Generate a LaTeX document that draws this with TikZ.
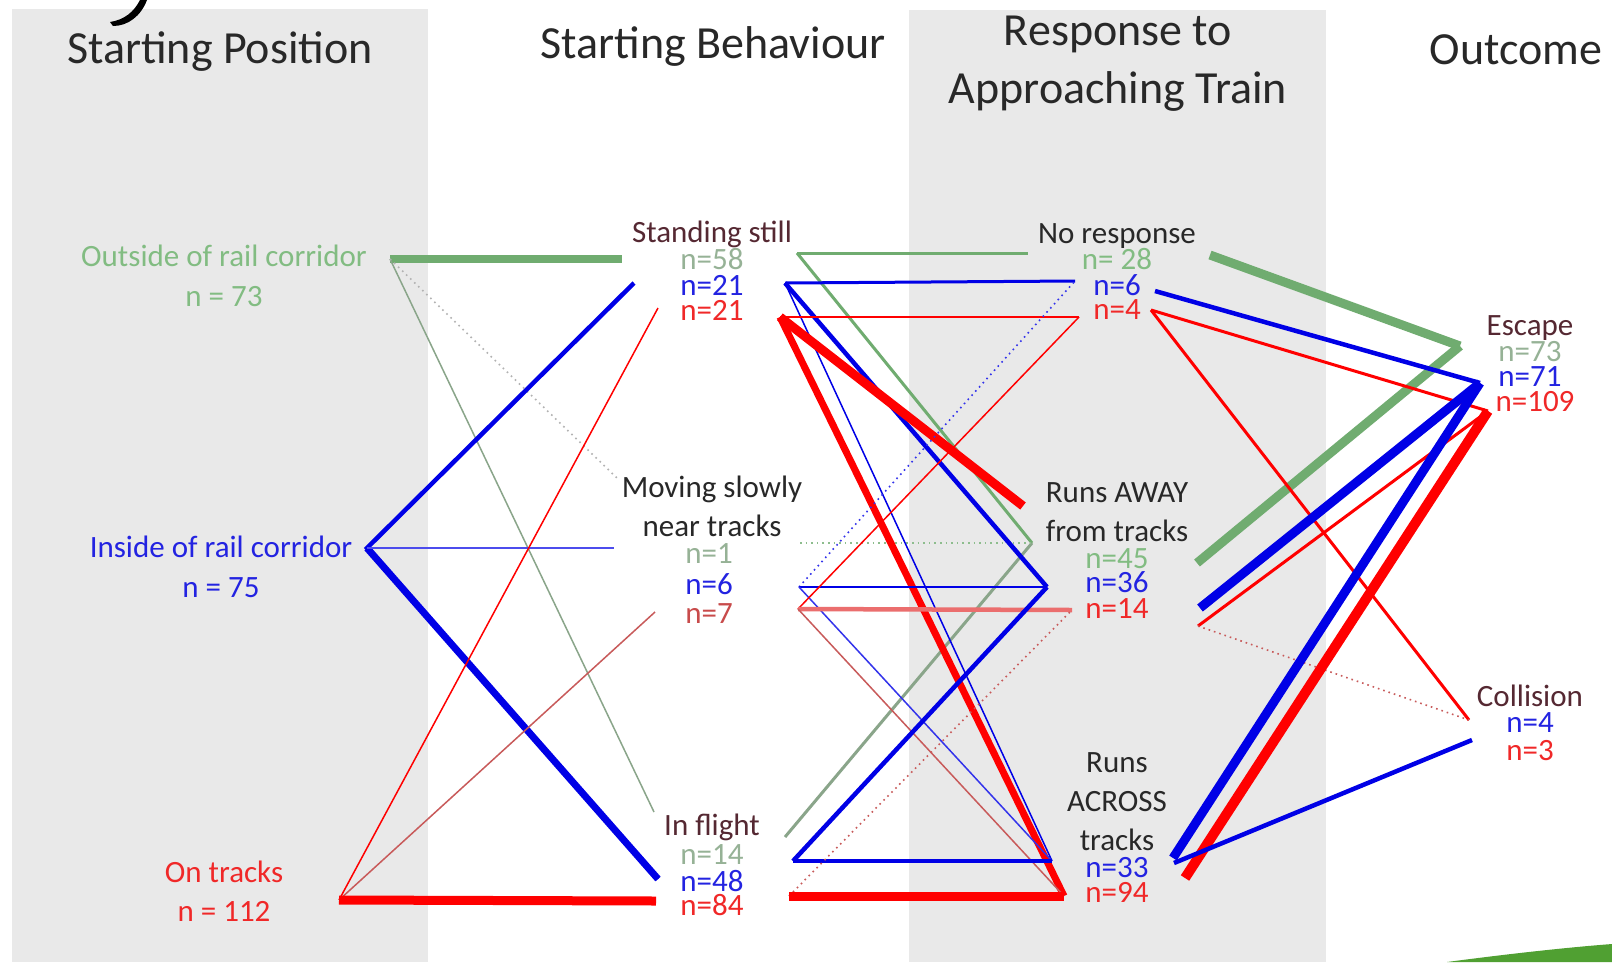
\documentclass[tikz,border=0pt]{standalone}
\usepackage{fontspec}
\setmainfont{Carlito}
\definecolor{bandc}{RGB}{233,233,233}
\definecolor{hdrc}{RGB}{40,40,40}
\definecolor{maroon}{RGB}{85,40,50}
\definecolor{gtext}{RGB}{130,188,130}
\definecolor{gtext2}{RGB}{150,178,150}
\definecolor{btext}{RGB}{35,35,225}
\definecolor{rtext}{RGB}{240,40,40}
\definecolor{rbtext}{RGB}{200,75,75}
\definecolor{gline}{RGB}{112,172,112}
\definecolor{gline2}{RGB}{138,165,138}
\definecolor{bline}{RGB}{0,0,230}
\definecolor{rline}{RGB}{255,0,0}
\definecolor{rlight}{RGB}{235,110,110}
\definecolor{rbrown}{RGB}{200,90,90}
\definecolor{swoosh}{RGB}{80,160,50}
\tikzset{
  hdr/.style={font=\fontsize{46}{50}\selectfont, text=hdrc, inner sep=0pt},
  lbl/.style={font=\fontsize{31}{34}\selectfont, inner sep=0pt, text height=20pt, text depth=3.5pt, yshift=-2pt},
  wa/.style={line width=1.5pt},
  wb/.style={line width=3pt},
  wc/.style={line width=4.5pt},
  wd/.style={line width=7pt},
  we/.style={line width=9pt},
  dots/.style={line width=1.6pt, dash pattern=on 1.6pt off 4pt},
}
\begin{document}
\begin{tikzpicture}[x=1pt,y=-1pt]
\useasboundingbox (0,0) rectangle (1612,962);
\fill[white] (0,0) rectangle (1612,962);
\fill[bandc] (12,9) rectangle (428,962);
\fill[bandc] (909,10) rectangle (1326,962);
% slide artefacts
\fill[black] (110,22) .. controls (124,20) and (134,12) .. (140,0) -- (147,0) .. controls (141,16) and (128,26) .. (113,26) -- cycle;
\fill[swoosh] (1447,962) .. controls (1500,955) and (1560,948) .. (1612,944) -- (1612,962) -- cycle;

% headers
\node[hdr] (hSP) at (220,52) {Starting Position};
\node[hdr] (hSB) at (713,46) {Starting Behaviour};
\node[hdr] (hR1) at (1118,34) {Response to};
\node[hdr] (hR2) at (1118,91) {Approaching Train};
\node[hdr] (hO) at (1516,50) {Outcome};

% column 1
\node[lbl, text=gtext] (out) at (224,256) {Outside of rail corridor};
\node[lbl, text=gtext] (outn) at (224,296) {n = 73};
\node[lbl, text=btext] (ins) at (221,547) {Inside of rail corridor};
\node[lbl, text=btext] (insn) at (221,587) {n = 75};
\node[lbl, text=rtext] (ont) at (224,872) {On tracks};
\node[lbl, text=rtext] (ontn) at (224,911) {n = 112};

% column 2
\node[lbl, text=maroon] (st) at (712,232) {Standing still};
\node[lbl, text=gtext2] (stg) at (712,259) {n=58};
\node[lbl, text=btext] (stb) at (712,285) {n=21};
\node[lbl, text=rtext] (str) at (712,310) {n=21};
\node[lbl, text=hdrc] (mv1) at (712,487) {Moving slowly};
\node[lbl, text=hdrc] (mv2) at (712,526) {near tracks};
\node[lbl, text=gtext2] (mvg) at (709,553) {n=1};
\node[lbl, text=btext] (mvb) at (709,584) {n=6};
\node[lbl, text=rbtext] (mvr) at (709,613) {n=7};
\node[lbl, text=maroon] (fl) at (712,825) {In flight};
\node[lbl, text=gtext2] (flg) at (712,854) {n=14};
\node[lbl, text=btext] (flb) at (712,881) {n=48};
\node[lbl, text=rtext] (flr) at (712,905) {n=84};

% column 3
\node[lbl, text=hdrc] (nr) at (1117,233) {No response};
\node[lbl, text=gtext] (nrg) at (1117,259) {n= 28};
\node[lbl, text=btext] (nrb) at (1117,285) {n=6};
\node[lbl, text=rtext] (nrr) at (1117,309) {n=4};
\node[lbl, text=hdrc] (aw1) at (1117,492) {Runs AWAY};
\node[lbl, text=hdrc] (aw2) at (1117,531) {from tracks};
\node[lbl, text=gtext] (awg) at (1117,558) {n=45};
\node[lbl, text=btext] (awb) at (1117,582) {n=36};
\node[lbl, text=rtext] (awr) at (1117,608) {n=14};
\node[lbl, text=hdrc] (ac1) at (1117,762) {Runs};
\node[lbl, text=hdrc] (ac2) at (1117,801) {ACROSS};
\node[lbl, text=hdrc] (ac3) at (1117,840) {tracks};
\node[lbl, text=btext] (acb) at (1117,867) {n=33};
\node[lbl, text=rtext] (acr) at (1117,892) {n=94};

% column 4
\node[lbl, text=maroon] (es) at (1530,325) {Escape};
\node[lbl, text=gtext2] (esg) at (1530,351) {n=73};
\node[lbl, text=btext] (esb) at (1530,376) {n=71};
\node[lbl, text=rtext] (esr) at (1535,401) {n=109};
\node[lbl, text=maroon] (co) at (1530,696) {Collision};
\node[lbl, text=btext] (cob) at (1530,722) {n=4};
\node[lbl, text=rtext] (cor) at (1530,750) {n=3};

% anchor points
\coordinate (Og) at (390,259);
\coordinate (Ib) at (367,548);
\coordinate (Tr) at (339,900);
\coordinate (SgL) at (622,259);
\coordinate (SbL) at (634,283);
\coordinate (SrL) at (658,308);
\coordinate (MgL) at (617,478);
\coordinate (MbL) at (614,548);
\coordinate (MrL) at (655,612);
\coordinate (FgL) at (654,812);
\coordinate (FbL) at (658,879);
\coordinate (FrL) at (656,901);
\coordinate (SgR) at (797,253);
\coordinate (SbR) at (785,283);
\coordinate (SrR) at (780,317);
\coordinate (MgR) at (800,543);
\coordinate (MbR) at (799,587);
\coordinate (MrR) at (798,609);
\coordinate (FgR) at (785,837);
\coordinate (FbR) at (793,861);
\coordinate (FrR) at (789,896);
\coordinate (NgL) at (1028,253);
\coordinate (NbL) at (1075,281);
\coordinate (NrL) at (1079,317);
\coordinate (AgL) at (1032,543);
\coordinate (AbL) at (1047,587);
\coordinate (ArL) at (1072,610);
\coordinate (ArT) at (1023,506);
\coordinate (CbL) at (1052,861);
\coordinate (CrL) at (1064,896);
\coordinate (NgR) at (1210,255);
\coordinate (NbR) at (1155,291);
\coordinate (NrR) at (1151,310);
\coordinate (AgR) at (1197,563);
\coordinate (AbR) at (1200,608);
\coordinate (ArR) at (1198,626);
\coordinate (CbR) at (1173,858);
\coordinate (CbR2) at (1174,863);
\coordinate (CrR) at (1185,878);
\coordinate (Eg) at (1460,346);
\coordinate (Eb) at (1480,383);
\coordinate (Er) at (1488,411);
\coordinate (Kr) at (1469,720);
\coordinate (Kb) at (1472,740);

% column 1 -> column 2
\draw[gline, line width=8pt] (Og) -- (SgL);
\draw[gline2, wa] (Og) -- (FgL);
\draw[gray!60, dots] (Og) -- (MgL);
\draw[bline, wc, line join=miter] (SbL) -- (Ib) -- (FbL);
\draw[bline, wd] (Ib) -- (FbL);
\draw[bline!70, wa] (Ib) -- (MbL);
\draw[rline, wa] (Tr) -- (SrL);
\draw[rbrown, wa] (Tr) -- (MrL);
\draw[rline, we] (Tr) -- (FrL);

% column 2 -> column 3
\draw[gline, wb] (SgR) -- (NgL);
\draw[gline, wb] (SgR) -- (AgL);
\draw[gline2, wb] (FgR) -- (AgL);
\draw[gline!80, dots] (MgR) -- (AgL);
\draw[bline, wb] (SbR) -- (NbL);
\draw[bline, wc] (SbR) -- (AbL);
\draw[bline, wa] (SbR) -- (CbL);
\draw[rline, wa] (SrR) -- (NrL);
\draw[rline, we] (SrR) -- (ArT);
\draw[rline, wd] (SrR) -- (CrL);
\draw[bline!80, dots] (MbR) -- (NbL);
\draw[bline, wa] (MbR) -- (AbL);
\draw[bline!80, wa] (MbR) -- (CbL);
\draw[rline, wa] (MrR) -- (NrL);
\draw[rlight, wc] (MrR) -- (ArL);
\draw[rbrown, wa] (MrR) -- (CrL);
\draw[bline, wc] (FbR) -- (AbL);
\draw[bline, wc] (FbR) -- (CbL);
\draw[rbrown, dots] (FrR) -- (ArL);
\draw[rline, we] (FrR) -- (CrL);

% column 3 -> column 4
\draw[gline, line width=9pt] (NgR) -- (Eg);
\draw[gline, line width=9pt] (AgR) -- (Eg);
\draw[bline, wc] (NbR) -- (Eb);
\draw[rline, wb] (NrR) -- (Er);
\draw[rline, wb] (NrR) -- (Kr);
\draw[bline, we] (AbR) -- (Eb);
\draw[rline, wb] (ArR) -- (Er);
\draw[rbrown, dots] (ArR) -- (Kr);
\draw[bline, we] (CbR) -- (Eb);
\draw[rline, line width=10pt] (CrR) -- (Er);
\draw[bline, wc] (CbR2) -- (Kb);
\end{tikzpicture}
\end{document}
